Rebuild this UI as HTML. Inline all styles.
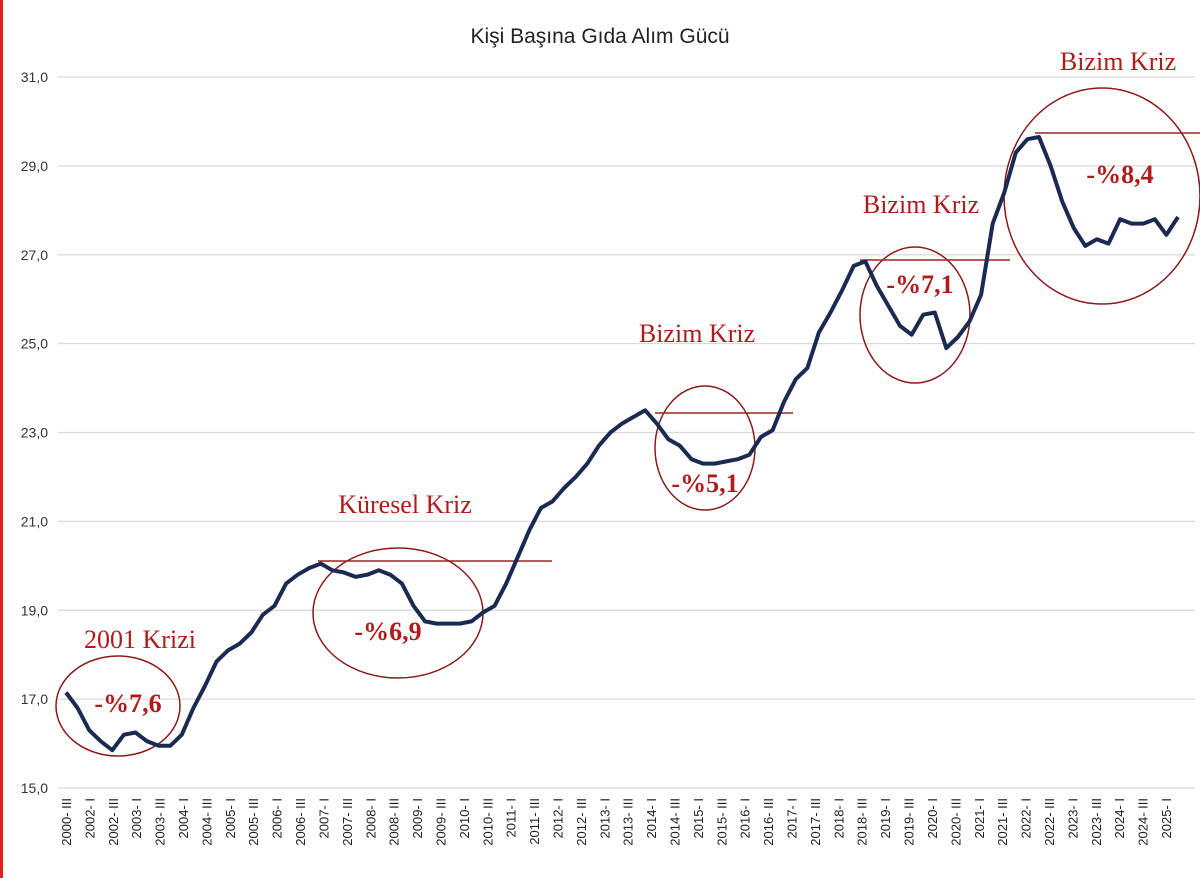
<!DOCTYPE html>
<html><head><meta charset="utf-8"><style>
body{margin:0;background:#fff;}
svg{display:block;font-family:"Liberation Sans",sans-serif;}
.ann{font-family:"Liberation Serif",serif;fill:#b01c1c;font-size:26px;text-anchor:middle;}
</style></head><body>
<svg width="1200" height="878">
<rect x="0" y="0" width="3" height="878" fill="#e02020"/>
<text x="600" y="43" font-size="21" text-anchor="middle" fill="#222">Kişi Başına Gıda Alım Gücü</text>
<g id="grid"></g><g id="yl"></g><g id="xl"></g>
<g fill="none" stroke="#8b1a1a" stroke-width="1.5">
<ellipse cx="118" cy="706" rx="62" ry="50"/>
<ellipse cx="398" cy="613" rx="85" ry="65"/>
<ellipse cx="705" cy="448" rx="50" ry="62"/>
<ellipse cx="915" cy="315" rx="55" ry="68"/>
<ellipse cx="1102" cy="196" rx="98" ry="108"/>
<line x1="318" y1="561" x2="552" y2="561" stroke="#a02020"/>
<line x1="655" y1="413" x2="793" y2="413" stroke="#a02020"/>
<line x1="860" y1="260" x2="1010" y2="260" stroke="#a02020"/>
<line x1="1035" y1="133" x2="1200" y2="133" stroke="#a02020"/>
</g>
<path id="line" fill="none" stroke="#1b2a52" stroke-width="4" stroke-linejoin="round"/>
<g>
<text class="ann" x="140" y="648">2001 Krizi</text>
<text class="ann" x="128" y="712" font-weight="bold">-%7,6</text>
<text class="ann" x="405" y="513">Küresel Kriz</text>
<text class="ann" x="388" y="640" font-weight="bold">-%6,9</text>
<text class="ann" x="697" y="342">Bizim Kriz</text>
<text class="ann" x="705" y="492" font-weight="bold">-%5,1</text>
<text class="ann" x="921" y="213">Bizim Kriz</text>
<text class="ann" x="920" y="293" font-weight="bold">-%7,1</text>
<text class="ann" x="1118" y="70">Bizim Kriz</text>
<text class="ann" x="1120" y="183" font-weight="bold">-%8,4</text>
</g>
</svg>
<script>
const values=[17.15,16.8,16.3,16.05,15.85,16.2,16.25,16.05,15.95,15.95,16.2,16.8,17.3,17.85,18.1,18.25,18.5,18.9,19.1,19.6,19.8,19.95,20.05,19.9,19.85,19.75,19.8,19.9,19.8,19.6,19.1,18.75,18.7,18.7,18.7,18.75,18.95,19.1,19.6,20.2,20.8,21.3,21.45,21.75,22.0,22.3,22.7,23.0,23.2,23.35,23.5,23.2,22.85,22.7,22.4,22.3,22.3,22.35,22.4,22.5,22.9,23.05,23.7,24.2,24.45,25.25,25.7,26.2,26.75,26.85,26.3,25.85,25.4,25.2,25.65,25.7,24.9,25.15,25.5,26.1,27.7,28.4,29.3,29.6,29.65,29.0,28.2,27.6,27.2,27.35,27.25,27.8,27.7,27.7,27.8,27.45,27.85];
const xLabels=["2000- III","2002- I","2002- III","2003- I","2003- III","2004- I","2004- III","2005- I","2005- III","2006- I","2006- III","2007- I","2007- III","2008- I","2008- III","2009- I","2009- III","2010- I","2010- III","2011- I","2011- III","2012- I","2012- III","2013- I","2013- III","2014- I","2014- III","2015- I","2015- III","2016- I","2016- III","2017- I","2017- III","2018- I","2018- III","2019- I","2019- III","2020- I","2020- III","2021- I","2021- III","2022- I","2022- III","2023- I","2023- III","2024- I","2024- III","2025- I"];
const yTicks=[15,17,19,21,23,25,27,29,31];
const yTickLabels=["15,0","17,0","19,0","21,0","23,0","25,0","27,0","29,0","31,0"];
const NS="http://www.w3.org/2000/svg";
const y=v=>788-(v-15)*(711/16);
const x=i=>66+i*(1178-66)/(values.length-1);
const xl=j=>66+j*(1166-66)/(xLabels.length-1);
const grid=document.getElementById('grid'),yl=document.getElementById('yl'),xg=document.getElementById('xl');
yTicks.forEach((t,k)=>{
 const l=document.createElementNS(NS,'line');
 l.setAttribute('x1',58);l.setAttribute('x2',1195);l.setAttribute('y1',y(t));l.setAttribute('y2',y(t));
 l.setAttribute('stroke','#d9d9d9');l.setAttribute('stroke-width',1.3);
 
 
 grid.appendChild(l);
 const tx=document.createElementNS(NS,'text');
 tx.setAttribute('x',48);tx.setAttribute('y',y(t)+5);tx.setAttribute('text-anchor','end');tx.setAttribute('font-size','14');tx.setAttribute('fill','#333');
 tx.textContent=yTickLabels[k];
 
 
 yl.appendChild(tx);
});
xLabels.forEach((s,j)=>{
 const tx=document.createElementNS(NS,'text');
 const px=xl(j)+5;
 tx.setAttribute('transform','translate('+px+',798) rotate(-90)');
 tx.setAttribute('text-anchor','end');tx.setAttribute('font-size','13');tx.setAttribute('fill','#222');
 tx.textContent=s;
 
 
 xg.appendChild(tx);
});
document.getElementById('line').setAttribute('d',values.map((v,i)=>(i?'L':'M')+x(i).toFixed(1)+','+y(v).toFixed(1)).join(''));
</script>
</body></html>
